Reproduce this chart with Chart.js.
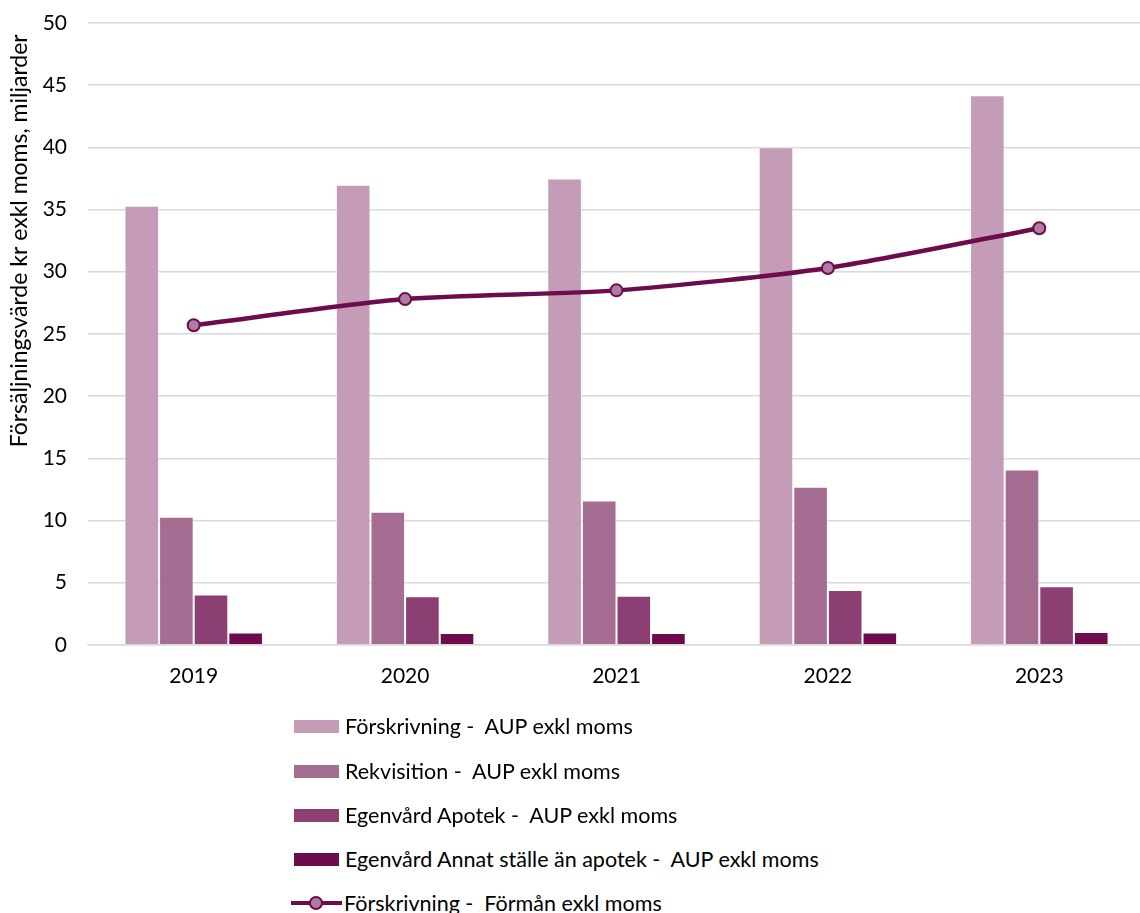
<!DOCTYPE html>
<html>
<head>
<meta charset="utf-8">
<script src="https://cdn.jsdelivr.net/npm/chart.js@4/dist/chart.umd.min.js"></script>
<style>
  html, body { margin: 0; padding: 0; background: #fff; overflow: hidden; width: 1140px; height: 913px; }
  #wrap { position: absolute; left: 0; top: 0; }
  #legend { position: absolute; left: 294px; top: 0; font-family: Lato, "Liberation Sans", sans-serif; font-size: 21.5px; color: #000; }
  .item { position: absolute; left: 0; white-space: pre; display: flex; align-items: center; height: 26px; }
  .box { width: 45px; height: 13px; margin-right: 6px; }
  .lineSym { position: relative; width: 51px; height: 26px; margin-right: 2px; margin-left: -3px; }
  .lineSym .ln { position: absolute; left: 0; right: 0; top: 11px; height: 4px; }
  .lineSym .pt { position: absolute; left: 18px; top: 6px; width: 10px; height: 10px; border-radius: 50%; border: 2px solid; }
</style>
</head>
<body>
<div id="wrap"><canvas id="c" width="1153" height="714"></canvas></div>
<div id="legend"></div>
<script>
const years = ["2019", "2020", "2021", "2022", "2023"];
const forskrivningAUP = [35.3, 37.0, 37.5, 40.0, 44.2];
const rekvisitionAUP = [10.3, 10.7, 11.6, 12.7, 14.1];
const egenvardApotekAUP = [4.05, 3.9, 3.95, 4.4, 4.7];
const egenvardAnnatAUP = [0.98, 0.94, 0.94, 0.98, 1.02];
const forskrivningFormon = [25.7, 27.8, 28.5, 30.3, 33.5];

const yTicks = [0, 5, 10, 15, 20, 25, 30, 35, 40, 45, 50];
const labels = [
  "Förskrivning -  AUP exkl moms",
  "Rekvisition -  AUP exkl moms",
  "Egenvård Apotek -  AUP exkl moms",
  "Egenvård Annat ställe än apotek -  AUP exkl moms",
  "Förskrivning -  Förmån exkl moms"
];
const yTitle = "Försäljningsvärde kr exkl moms, miljarder";
const colors = ["#c49cb8", "#a66d93", "#8c3f73", "#6c0c4c"];
const lineColor = "#6c0c4c";
const pointFill = "#b07ca2";
const FONT = "Lato, 'Liberation Sans', sans-serif";

const barSeries = [forskrivningAUP, rekvisitionAUP, egenvardApotekAUP, egenvardAnnatAUP];
const datasets = barSeries.map((d, i) => ({
  type: "bar",
  label: labels[i],
  data: d,
  backgroundColor: colors[i],
  borderColor: "rgba(255,255,255,0.45)",
  borderWidth: 1,
  barPercentage: 1.0,
  categoryPercentage: 0.655,
  order: 2
}));
datasets.push({
  type: "line",
  label: labels[4],
  data: forskrivningFormon,
  borderColor: lineColor,
  backgroundColor: pointFill,
  borderWidth: 4.5,
  pointRadius: 6,
  pointBorderWidth: 2,
  pointBorderColor: lineColor,
  pointBackgroundColor: pointFill,
  tension: 0.25,
  order: 1
});

const chart = new Chart(document.getElementById("c"), {
  data: { labels: years, datasets },
  options: {
    responsive: false,
    animation: false,
    layout: { padding: { top: 23, right: 2, left: 0, bottom: 6 } },
    plugins: { legend: { display: false }, tooltip: { enabled: false } },
    scales: {
      x: {
        grid: { display: false, drawTicks: false },
        border: { display: true, color: "#d9d9d9", width: 1.5 },
        ticks: { color: "#000", font: { family: FONT, size: 21 }, padding: 19 }
      },
      y: {
        min: 0, max: 50,
        afterFit: s => { s.width = 88; },
        afterBuildTicks: s => { s.ticks = yTicks.map(v => ({ value: v })); },
        grid: { color: "#d9d9d9", lineWidth: 1.5, drawTicks: true, tickLength: 21, tickColor: "rgba(0,0,0,0)" },
        border: { display: false },
        ticks: { color: "#000", font: { family: FONT, size: 21 }, padding: 0 },
        title: {
          display: true,
          text: yTitle + "\u00a0\u00a0",
          align: "end",
          color: "#000",
          font: { family: FONT, size: 23 },
          padding: { top: 6, bottom: 0 }
        }
      }
    }
  }
});

// Legend built from the chart's datasets
const legend = document.getElementById("legend");
const centers = [726, 771, 815, 859, 903];
chart.data.datasets.forEach((ds, k) => {
  const it = document.createElement("div");
  it.className = "item";
  it.style.top = (centers[k] - 13) + "px";
  if (ds.type === "bar") {
    const b = document.createElement("div");
    b.className = "box";
    b.style.background = ds.backgroundColor;
    it.appendChild(b);
  } else {
    const s = document.createElement("div");
    s.className = "lineSym";
    const ln = document.createElement("div");
    ln.className = "ln"; ln.style.background = ds.borderColor;
    const pt = document.createElement("div");
    pt.className = "pt"; pt.style.background = ds.pointBackgroundColor; pt.style.borderColor = ds.pointBorderColor;
    s.appendChild(ln); s.appendChild(pt);
    it.appendChild(s);
  }
  const t = document.createElement("span");
  t.textContent = ds.label;
  it.appendChild(t);
  legend.appendChild(it);
});
</script>
</body>
</html>
